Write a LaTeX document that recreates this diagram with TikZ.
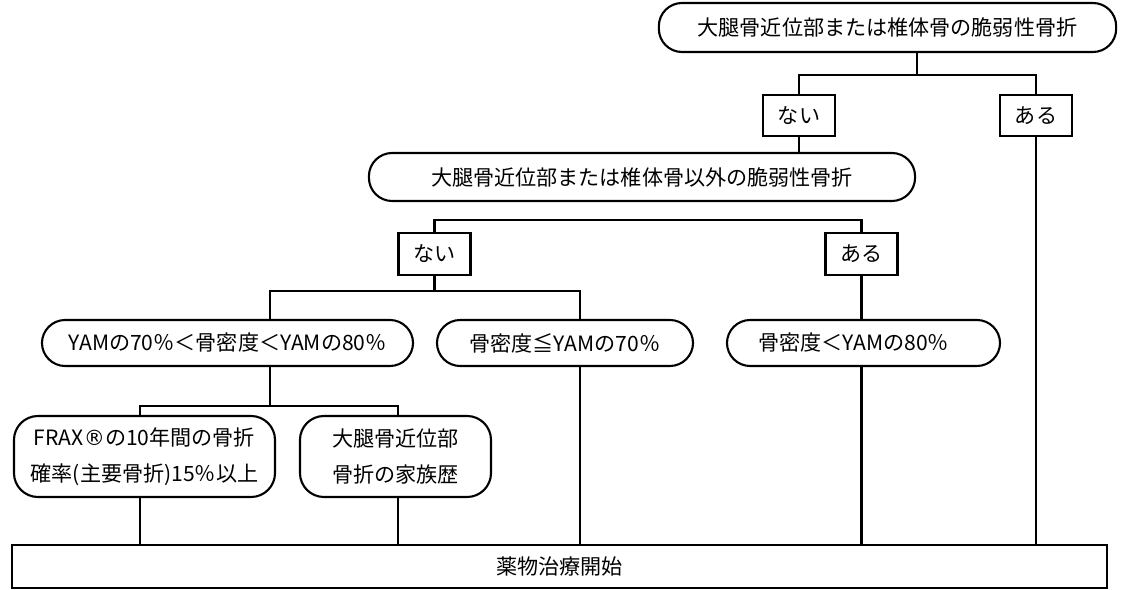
\documentclass[tikz,border=0pt]{standalone}
\usepackage{fontspec}
\setmainfont{Noto Sans CJK JP}
\newfontfamily\symfont{DejaVu Sans}
\usepackage{tikz}
\usetikzlibrary{positioning,calc}
\tikzstyle{pill} = [draw, line width=1.5pt, rounded corners=0.58cm, inner sep=0pt, align=center]
\tikzstyle{answer} = [draw, line width=1.5pt, inner sep=0pt, minimum width=1.8cm, minimum height=1.03cm]
\tikzstyle{link} = [line width=1.5pt]

\begin{document}
\begin{tikzpicture}[x=0.025cm, y=-0.025cm, font=\fontsize{15}{26}\selectfont]
    \useasboundingbox (0,0) rectangle (1126,590);

    % First question
    \node[pill, minimum width=11.43cm, minimum height=1.225cm] (q1) at (887.5,27.5) {大腿骨近位部または椎体骨の脆弱性骨折};
    \node[answer] (nai1) at (799,115.5) {ない};
    \node[answer] (aru1) at (1036,115.5) {ある};

    % Second question
    \node[pill, minimum width=13.65cm, minimum height=1.2cm] (q2) at (642,177) {大腿骨近位部または椎体骨以外の脆弱性骨折};
    \node[answer] (nai2) at (434.5,254) {ない};
    \node[answer] (aru2) at (861.5,254) {ある};

    % Bone density
    \node[pill, minimum width=9.275cm, minimum height=1.15cm] (bmd1) at (227.5,343) {YAMの70％＜骨密度＜YAMの80％};
    \node[pill, minimum width=6.4cm, minimum height=1.15cm] (bmd2) at (565,343) {骨密度≦YAMの70％};
    \node[pill, minimum width=6.825cm, minimum height=1.15cm] (bmd3) at (863.5,343) {骨密度＜YAMの80％\hspace{0.5cm}};

    % Additional risk factors
    \node[pill, rounded corners=0.6cm, minimum width=6.525cm, minimum height=2.025cm] (frax) at (144.5,456.5) {FRAX{\symfont ®}の10年間の骨折\\確率(主要骨折)15％以上};
    \node[pill, rounded corners=0.6cm, minimum width=4.775cm, minimum height=2.025cm] (family) at (395.5,456.5) {大腿骨近位部\\骨折の家族歴};

    % Treatment
    \node[draw, line width=1.5pt, minimum width=27.375cm, minimum height=1.075cm] (chiryo) at (559.5,566.5) {薬物治療開始};

    % Junctions
    \coordinate (j1) at (917,75);
    \coordinate (j2) at (640,220);
    \coordinate (j3) at (270,291);
    \coordinate (j4) at (580,291);
    \coordinate (j5) at (270,406);

    % Connections
    \draw[link] (q1.south -| j1) -- (j1);
    \draw[link] (nai1.north) |- (j1) -| (aru1.north);
    \draw[link] (nai1.south) -- (nai1.south |- q2.north);
    \draw[link] (aru1.south) -- (aru1.south |- chiryo.north);
    \draw[link] (nai2.north) |- (j2) -| (aru2.north);
    \draw[link] (nai2.south) -- (nai2.south |- j3);
    \draw[link] (j3 |- bmd1.north) -- (j3) -- (j4) -- (j4 |- bmd2.north);
    \draw[link] (aru2.south) -- (bmd3.north -| aru2.south);
    \draw[link] (j5 |- bmd1.south) -- (j5);
    \draw[link] (frax.north -| 140,0) |- (j5) -| (family.north -| 398,0);
    \draw[link] (frax.south -| 140,0) -- (chiryo.north -| 140,0);
    \draw[link] (family.south -| 398,0) -- (chiryo.north -| 398,0);
    \draw[link] (j4 |- bmd2.south) -- (j4 |- chiryo.north);
    \draw[link] (bmd3.south -| aru2.south) -- (chiryo.north -| aru2.south);
\end{tikzpicture}
\end{document}
